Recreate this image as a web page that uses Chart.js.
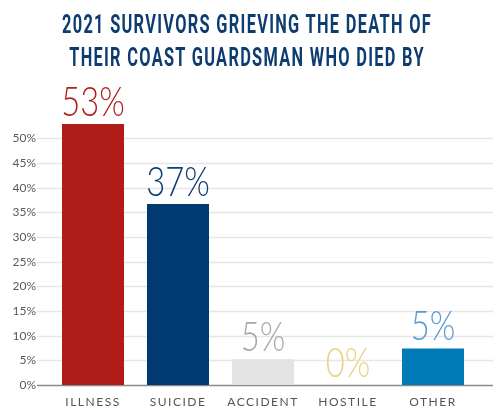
<!DOCTYPE html>
<html>
<head>
<meta charset="utf-8">
<script src="https://cdn.jsdelivr.net/npm/chart.js@4"></script>
<style>
  html, body { margin: 0; padding: 0; background: #fff; }
  #wrap { position: relative; width: 493px; height: 409px; overflow: hidden; }
  .tl {
    position: absolute; left: 246.5px; white-space: nowrap; color: #0d3d70;
    font-family: Roboto, "DejaVu Sans", sans-serif;
    font-weight: bold; font-size: 25px; line-height: 33px; letter-spacing: 2px;
    z-index: 2;
  }
  canvas { position: absolute; left: 0; top: 0; }
</style>
</head>
<body>
<div id="wrap">
  <div class="tl" id="t1" style="top:8px">2021 SURVIVORS GRIEVING THE DEATH OF</div>
  <div class="tl" id="t2" style="top:41px">THEIR COAST GUARDSMAN WHO DIED BY</div>
  <canvas id="c" width="493" height="409"></canvas>
</div>
<script>
const categories = ["ILLNESS", "SUICIDE", "ACCIDENT", "HOSTILE", "OTHER"];
const values = [52.9, 36.7, 5.2, 0, 7.4];
const valueLabels = ["53%", "37%", "5%", "0%", "5%"];
const barColors = ["#b01c18", "#003a70", "#e3e3e3", "#e8cf7e", "#007bb8"];
const labelColors = ["#b3211d", "#0d3d70", "#a8a8a8", "#e9d38a", "#5b9bd5"];
const yTicks = [0, 5, 10, 15, 20, 25, 30, 35, 40, 45, 50];

// squeeze title lines to condensed width
const t1 = document.getElementById('t1'), t2 = document.getElementById('t2');
const sx = 370 / t1.getBoundingClientRect().width;
[t1, t2].forEach(t => { t.style.transform = 'translateX(-50%) scaleX(' + sx + ')'; });

const gridPlugin = {
  id: 'gridPlugin',
  beforeDatasetsDraw(chart) {
    const ctx = chart.ctx, y = chart.scales.y;
    ctx.save();
    yTicks.forEach(v => {
      const py = Math.round(y.getPixelForValue(v)) + 0.5;
      ctx.beginPath();
      ctx.strokeStyle = v === 0 ? '#8a8a8a' : '#e6e6e6';
      ctx.lineWidth = 1.5;
      ctx.moveTo(37, py);
      ctx.lineTo(chart.width, py);
      ctx.stroke();
    });
    ctx.restore();
  }
};

const labelPlugin = {
  id: 'labelPlugin',
  afterDatasetsDraw(chart) {
    const ctx = chart.ctx, x = chart.scales.x;
    const meta = chart.getDatasetMeta(0);
    ctx.save();
    ctx.textAlign = 'center';
    ctx.textBaseline = 'alphabetic';
    ctx.font = '300 41px Lato, sans-serif';
    meta.data.forEach((bar, i) => {
      ctx.save();
      ctx.translate(bar.x, bar.y - 8);
      ctx.scale(0.8, 1);
      ctx.fillStyle = labelColors[i];
      ctx.fillText(valueLabels[i], 0, 0);
      ctx.restore();
    });
    ctx.font = '400 12px Lato, sans-serif';
    ctx.fillStyle = '#555';
    ctx.textBaseline = 'middle';
    try { ctx.letterSpacing = '1.5px'; } catch (e) {}
    categories.forEach((c, i) => {
      ctx.fillText(c, x.getPixelForValue(i), 402);
    });
    ctx.restore();
  }
};

new Chart(document.getElementById('c'), {
  type: 'bar',
  data: {
    labels: categories,
    datasets: [{
      data: values,
      backgroundColor: barColors,
      borderWidth: 0,
      categoryPercentage: 1,
      barPercentage: 62 / 85
    }]
  },
  options: {
    responsive: false,
    animation: false,
    events: [],
    layout: { padding: { left: 0, right: 17.5, top: 113.7, bottom: 0 } },
    plugins: { legend: { display: false }, tooltip: { enabled: false }, title: { display: false } },
    scales: {
      x: {
        grid: { display: false, drawTicks: false },
        border: { display: false },
        ticks: { display: false },
        afterFit(s) { s.height = 24; }
      },
      y: {
        min: 0, max: 55,
        afterBuildTicks(s) { s.ticks = yTicks.map(v => ({ value: v })); },
        grid: { display: false, drawTicks: false },
        border: { display: false },
        ticks: {
          padding: 14.5,
          color: '#5a5a5a',
          font: { family: 'Lato, sans-serif', size: 12 },
          callback: v => v + '%'
        },
        afterFit(s) { s.width = 50.5; }
      }
    }
  },
  plugins: [gridPlugin, labelPlugin]
});
</script>
</body>
</html>
